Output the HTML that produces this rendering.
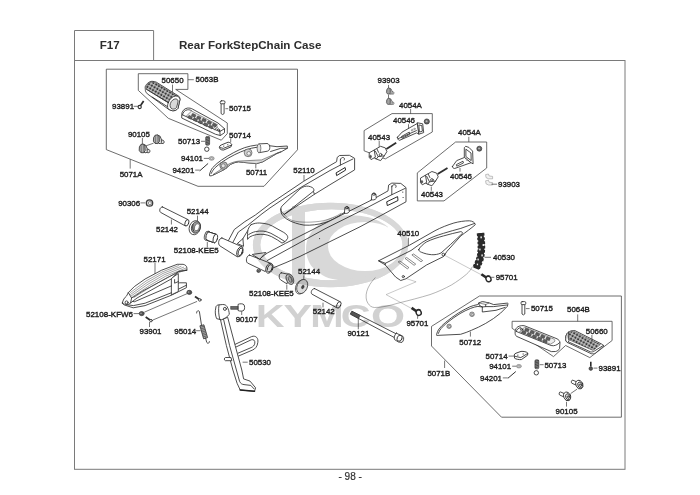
<!DOCTYPE html>
<html>
<head>
<meta charset="utf-8">
<title>F17 Rear ForkStepChain Case</title>
<style>
html,body{margin:0;padding:0;background:#fff;}
body{width:700px;height:495px;overflow:hidden;font-family:"Liberation Sans",sans-serif;}
svg{display:block;position:absolute;left:0;top:0;filter:blur(.35px);}
svg text{font-family:"Liberation Sans",sans-serif;}
.fr{fill:none;stroke:#7a7a7a;stroke-width:1;}
.gb{fill:none;stroke:#484848;stroke-width:.8;stroke-linejoin:miter;}
.ld{fill:none;stroke:#3c3c3c;stroke-width:.7;}
.p{fill:#fff;stroke:#2e2e2e;stroke-width:.85;stroke-linejoin:round;stroke-linecap:round;}
.pn{fill:none;stroke:#2e2e2e;stroke-width:.85;stroke-linejoin:round;stroke-linecap:round;}
.pt{fill:none;stroke:#4a4a4a;stroke-width:.5;stroke-linejoin:round;stroke-linecap:round;}
.g1{fill:#d9d9d9;stroke:#2e2e2e;stroke-width:.8;stroke-linejoin:round;}
.g2{fill:#9a9a9a;stroke:#333;stroke-width:.6;stroke-linejoin:round;}
.dk{fill:#444;stroke:#222;stroke-width:.5;}
.lb{font-size:7.9px;fill:#1e1e1e;stroke:#1e1e1e;stroke-width:.38;}
.hd{font-size:11.6px;font-weight:bold;fill:#2e2e2e;}
.ft{font-size:10px;fill:#333;stroke:#333;stroke-width:.2;}
.wm{fill:#cfcfcf;stroke:none;}
</style>
</head>
<body>
<svg width="700" height="495" viewBox="0 0 700 495">
<rect x="0" y="0" width="700" height="495" fill="#fff"/>



<!-- ===== FRAME ===== -->
<g id="frame">
<rect class="fr" x="74.5" y="60.5" width="550.5" height="408.8"/>
<path class="fr" d="M74.5,60.5 L74.5,30.5 L153.6,30.5 L153.6,60.5"/>
<text class="hd" x="99.7" y="48.8">F17</text>
<text class="hd" x="179" y="48.9">Rear ForkStepChain Case</text>
<text class="ft" x="338.5" y="480">- 98 -</text>
</g>

<!-- ===== GROUP BOXES ===== -->
<g id="groups">
<polygon class="gb" points="106.3,69.2 297.5,69.2 297.5,149.8 264,186.3 198,186.3 106.3,149.6"/>
<polygon class="gb" points="138.3,73.7 187.9,73.7 187.9,89.4 175.7,89.4 227.3,123 227.3,133.6 221.3,140.2 168.3,118.3 138.3,90.4"/>
</g>


<defs>
<pattern id="nub" width="3.2" height="3.2" patternUnits="userSpaceOnUse" patternTransform="rotate(30)">
<rect width="3.2" height="3.2" fill="#cfcfcf"/>
<rect x=".4" y=".4" width="2.2" height="2.2" fill="#3a3a3a"/>
</pattern>
</defs>
<!-- ===== GROUP A: upper-left 5071A ===== -->
<g id="gA">
<!-- footpeg rubber 50650 -->
<path class="p" d="M145.3,86.5 C146,84.8 147,83.6 148.1,82.9 C149.5,81.8 150.8,81.3 152.1,81.3 C153.6,81.4 155,81.7 156.2,82.1 L175.6,94.2 L178.8,96.2 C179.6,97 180,98.2 180,99.4 L178,108.3 C176.5,110.3 174.5,111 172.3,110.7 C170.8,110.4 169.5,109.8 168.3,109.1 L147.3,93.8 C146,92.6 145.3,91.2 145.3,89.7 Z"/>
<path d="M146.3,86.6 C147,84.6 148.4,83.2 150,82.3 C151.6,81.7 153.6,81.8 155.4,82.6 L177.8,96.4 L170,102.6 L168.3,102.7 L146.5,89.3 Z" fill="url(#nub)" stroke="#333" stroke-width=".5"/>
<path class="pn" d="M146.5,89.3 L168.3,102.7 M152.1,97 L167.5,106.7"/>
<path class="p" d="M168.3,102.7 C169.5,98.8 172.5,96.4 175.6,96 C178,95.8 179.8,97.4 180,99.4 L178,108.3 C176.5,110.3 174.5,111 172.3,110.7 C170.8,110.4 169.5,109.8 168.3,109.1 C167.2,107.2 167.3,104.8 168.3,102.7 Z"/>
<path class="g1" d="M170.3,103.6 C171.3,100.6 173.6,98.9 175.8,98.9 C177.6,99.1 178.3,100.4 178,102 L176.6,107.4 C175.6,108.8 174,109.3 172.4,109 C170.4,108.4 169.6,106 170.3,103.6 Z" stroke-width=".5"/>
<!-- step bar -->
<path class="p" d="M181.7,114.1 C181.8,111.5 184,108.6 187.3,108.1 C189.5,107.9 191,108.3 192.2,108.9 L218,123 L224.5,128.7 L224.5,132.7 L220.4,135.5 L215.6,134.3 L182.1,118.2 Z"/>
<path class="pn" d="M182.5,114.9 L214.8,129.5 L219.8,131.6 L224.5,128.7 M219.8,131.6 L220.2,135.4 M214.8,129.5 L217.6,127"/>
<path class="pn" d="M182.5,114.9 C182.8,112.4 184.8,110.2 187.4,109.8 C189,109.6 190.4,110 191.4,110.6"/>
<path d="M186.2,116.2 L191.6,111 L217.6,124.8 L213.2,128.6 Z" fill="#ececec" stroke="#333" stroke-width=".5" stroke-linejoin="round"/>
<g fill="#5f5f5f" stroke="#2a2a2a" stroke-width=".4"><rect x="191.8" y="114.0" width="3.9" height="2.7" rx=".5" transform="rotate(25 193.6 115.2)"/><rect x="197.0" y="116.4" width="3.9" height="2.7" rx=".5" transform="rotate(25 198.8 117.6)"/><rect x="202.2" y="118.8" width="3.9" height="2.7" rx=".5" transform="rotate(25 204.0 120.0)"/><rect x="207.4" y="121.3" width="3.9" height="2.7" rx=".5" transform="rotate(25 209.2 122.5)"/><rect x="212.6" y="123.7" width="3.9" height="2.7" rx=".5" transform="rotate(25 214.4 124.9)"/><rect x="188.2" y="115.9" width="3.9" height="2.7" rx=".5" transform="rotate(25 190.0 117.1)"/><rect x="193.4" y="118.3" width="3.9" height="2.7" rx=".5" transform="rotate(25 195.2 119.5)"/><rect x="198.6" y="120.7" width="3.9" height="2.7" rx=".5" transform="rotate(25 200.4 121.9)"/><rect x="203.8" y="123.2" width="3.9" height="2.7" rx=".5" transform="rotate(25 205.6 124.4)"/><rect x="209.0" y="125.6" width="3.9" height="2.7" rx=".5" transform="rotate(25 210.8 126.8)"/></g>
<ellipse class="p" cx="218.6" cy="129.9" rx="1.3" ry=".9" transform="rotate(25 218.6 129.9)" stroke-width=".6"/>
</g>


<g id="gA2">
<!-- 93891 screw -->
<line class="ld" x1="133.6" y1="106.3" x2="138" y2="106.3"/>
<line x1="140.8" y1="105.2" x2="143.6" y2="101" stroke="#2a2a2a" stroke-width="1.7" stroke-linecap="butt"/>
<circle cx="139.7" cy="107" r="1.6" fill="#fff" stroke="#2a2a2a" stroke-width="1.1"/>
<!-- 50715 pin -->
<path class="p" d="M221.1,103.6 L221.1,113.6 Q222.6,115.4 224.1,113.6 L224.1,103.6 Z"/>
<rect class="p" x="220.2" y="100.8" width="4.8" height="3" rx="1.2"/>
<line class="ld" x1="225.4" y1="108.7" x2="228.2" y2="108.7"/>
<!-- 90105 bolts -->
<line class="ld" x1="142.4" y1="138" x2="142.4" y2="144.2"/>
<line class="ld" x1="146.1" y1="145.8" x2="153.5" y2="143.2"/>
<g id="b90105">
<path d="M146,148.6 L149.2,149.6 C150.2,150.2 150.2,152.4 149,152.8 L145.8,152.4 Z" fill="#e4e4e4" stroke="#2a2a2a" stroke-width=".8" stroke-linejoin="round"/>
<ellipse cx="145" cy="148.8" rx="2.1" ry="4.2" transform="rotate(-12 145 148.8)" fill="#f4f4f4" stroke="#2a2a2a" stroke-width=".8"/>
<path d="M139.4,146.8 L141,144.4 L143.6,144 L145,146 L145.2,150.6 L143.6,152.8 L140.8,152.6 L139.2,150.4 Z" fill="#b0b0b0" stroke="#2a2a2a" stroke-width=".8" stroke-linejoin="round"/>
<path d="M141,144.4 L141.4,152.6 M143.6,144 L143.8,152.8" stroke="#444" stroke-width=".5" fill="none"/>
</g>
<use href="#b90105" transform="translate(14.2,-9.2)"/>
<!-- 50713 spring + ring -->
<line class="ld" x1="201" y1="141.3" x2="205" y2="141.3"/>
<rect x="205.7" y="136.4" width="3.9" height="8.8" rx="1.2" fill="#8a8a8a" stroke="#333" stroke-width=".6"/>
<path d="M205.8,138 l3.7,-1 M205.8,139.6 l3.7,-1 M205.8,141.2 l3.7,-1 M205.8,142.8 l3.7,-1 M205.8,144.4 l3.7,-1" stroke="#222" stroke-width=".6" fill="none"/>
<circle cx="206.8" cy="149.2" r="2.2" fill="#fff" stroke="#333" stroke-width=".9"/>
<!-- 50714 plate -->
<line class="ld" x1="230.7" y1="138.4" x2="230.7" y2="142.3"/>
<path d="M219.3,147.2 C219.6,146 220.2,145.4 221.2,145 L228.1,142.2 C229.6,142.2 231.4,143.4 231.8,144.7 L230.9,146.9 L223.7,150 C222.4,150.2 221,149.8 220.2,149.1 Z" fill="#fff" stroke="#2e2e2e" stroke-width=".9" stroke-linejoin="round"/>
<path class="pn" d="M220.2,147.6 L223.4,148.4 L231.2,145.2" stroke-width=".5"/>
<path d="M223.1,145.8 l1.2,.8 m0,-.8 l-1.2,.8 M227.2,144.3 l1.2,.8 m0,-.8 l-1.2,.8" stroke="#333" stroke-width=".5" fill="none"/>
<!-- 94101 washer -->
<line class="ld" x1="203.8" y1="158.4" x2="209" y2="158.4"/>
<ellipse cx="211.6" cy="158.4" rx="2.6" ry="1.9" fill="#bdbdbd" stroke="#666" stroke-width=".5"/>
<ellipse cx="211.6" cy="158.4" rx="1" ry=".7" fill="#fff" stroke="#666" stroke-width=".4"/>
<!-- 94201 cotter pin -->
<line class="ld" x1="195.2" y1="170.1" x2="199.8" y2="170.1"/>
<line x1="200" y1="170.6" x2="207.8" y2="163.7" stroke="#333" stroke-width="1" stroke-linecap="round"/>
<!-- 5071A leader -->
<line class="ld" x1="130.2" y1="159.2" x2="130.2" y2="168.6"/>
<!-- 50711 bracket -->
<path class="p" d="M209.5,174.6 C210,172 211.2,169.6 212.7,167.6 C215.4,164.6 218.4,162.2 221.7,159.9 C225.4,157.4 229.3,155 233.3,152.8 C237,150.8 240.8,149 244.8,147.6 C248.6,146.4 252.4,145.6 256.4,145.1 L269.3,145.7 L277,146.7 L287.3,146 L287.3,148.3 L280.8,152.1 L277,153.4 L262.8,161.8 L256.4,163.7 L243.6,162.4 L238.4,161.8 C235.6,162.2 233,163.1 230.7,164.3 L224.3,169.5 L215.3,174 C213.4,175.2 211.6,176 210.1,175.9 Z"/>
<path d="M238.4,161.1 L261.6,159.9 L280.8,151.5 L280.8,152.1 L277,153.4 L262.8,161.8 L256.4,163.7 L243.6,162.4 L238.4,161.8 C235.6,162.2 233,163.1 230.7,164.3 L224.3,169.5 L215.3,174 L213,174.6 C217,172 221,169.4 225,166.4 C229,163.6 233.6,161.6 238.4,161.1 Z" fill="#dcdcdc" stroke="#3a3a3a" stroke-width=".55" stroke-linejoin="round"/>
<path class="pn" d="M211.3,173.4 C212.3,171 213.6,169.2 215.2,167.6 C217.6,165.2 220.4,163.2 223.4,161.2 C227,158.8 230.8,156.6 234.8,154.6 C238.6,152.8 242.4,151 246.2,149.8 C249.8,148.6 253.4,147.6 257,147.2"/>
<path class="pn" d="M270.6,151.5 L280.8,148.3 L287.3,148.3"/>
<circle cx="223.6" cy="165.6" r="3.8" fill="#b8b8b8" stroke="#3a3a3a" stroke-width=".6"/>
<circle cx="223.2" cy="165.8" r="2" fill="#e6e6e6" stroke="#3a3a3a" stroke-width=".5"/>
<circle cx="248.1" cy="152.8" r="3.9" fill="#d0d0d0" stroke="#3a3a3a" stroke-width=".6"/>
<circle cx="248.8" cy="153.4" r="1.9" fill="#f2f2f2" stroke="#3a3a3a" stroke-width=".5"/>
<path class="p" d="M259,143.9 L267,143.5 C268.8,143.6 269.8,145.4 269.8,147.4 C269.8,149.4 268.9,150.9 267.4,151.2 L259,152.7 Z"/>
<ellipse cx="259" cy="148.3" rx="1.9" ry="4.4" fill="#e2e2e2" stroke="#3a3a3a" stroke-width=".6"/>
<line class="ld" x1="255.8" y1="164.2" x2="255.8" y2="168.4"/>
<!-- 50650 / 5063B leaders -->
<line class="ld" x1="172.5" y1="84.6" x2="172.5" y2="92"/>
<line class="ld" x1="187.9" y1="79.7" x2="193.8" y2="79.7"/>
</g>


<!-- ===== SWINGARM 52110 ===== -->
<g id="swingarm">
<!-- far arm -->
<path d="M228.4,240.6 L234.3,229.5 L244.9,221.6 L255.4,215 L270,203.9 L282.1,195.8 L303.8,181.2 L330,165.5 L336.6,161.7 L337.2,157.4 L339.6,155.5 L349.4,155.3 L354.6,158.3 L354.6,169.9 L330,184.7 L314.4,194.3 L283.6,214 L264.6,218 L251.4,225.5 L246.8,232.1 L242.9,238.7 L243.5,245.9 L236,246 Z" fill="#fff" stroke="none"/>
<path class="pn" d="M228.4,240.6 L234.3,229.5 L244.9,221.6 L255.4,215 L270,203.9 L282.1,195.8 L303.8,181.2 L330,165.5 L336.6,161.7 L337.2,157.4 L339.6,155.5 L349.4,155.3 L354.6,158.3 L354.6,169.9 L330,184.7 L314.4,194.3"/>
<path class="pn" d="M251.4,225.5 L246.8,232.1 L242.9,238.7"/>
<path class="pn" d="M232.4,243.3 L238.3,232.1 L247.5,225.5 L262,213.8 L270,207.9 L282.1,199.8 L300.3,187.7 L330,170.5 L340.4,165.1 L352.9,159"/>
<path class="pn" d="M340.4,159.8 L340.4,165.1 M340.4,159.8 C340.6,158 342,157.2 343.5,157.6 C344.6,158 344.8,159 344.2,160"/>
<path d="M336.1,172.9 L345.1,167.5 L345.6,170.1 L336.6,175.6 Z" fill="#fff" stroke="#2a2a2a" stroke-width="1"/>
<!-- U opening -->
<path class="p" d="M300.3,188.7 C303,186.6 305.8,185.8 308.4,186.2 C311.6,186.8 313.8,188 313.9,189.7 C314,190.6 313.8,191 313.4,191.3 L314.4,194.3 L284.3,214.4 C282.4,213.4 281,211.4 280.8,208.9 C281,207.4 281.6,206.2 282.6,205.4 Z"/>
<path class="pn" d="M313.4,191.3 L284.3,214.4"/>
<path class="pn" d="M280.8,208.9 C280.6,211 281,212.6 281.7,214 C283,216.2 284.8,217.8 286.8,219.1 C289.4,220.8 292.3,222.1 295.4,223 C298.2,224 301,224.6 304,225.1 C311,225.6 318,224.6 325,222.6 C331,220.8 337,217.3 341.7,214 L346,212"/>
<path class="pt" d="M284.3,214.4 C286,217.2 289,219.4 292.5,220.6 C300,222.8 313,222.6 323,220.8 C330,219.2 336,216.6 341,213.4"/>
<!-- cross member -->
<path class="p" d="M251.1,224.7 C253.8,223.4 256.8,222.9 259.7,223 C262.6,223.1 265.5,223.6 268.3,224.3 C271,225.3 273.6,226.6 276,228.1 L283.7,232.4 C285.2,233.2 286.4,234.2 287.1,235.4 C287.8,236.4 287.9,237.4 287.6,238.4 L285.4,241.4 L282,243.1 L277.7,240.1 L271.7,236.7 C269.2,235.5 266.6,234.7 264,234.4 C261.4,234.2 258.8,234.2 256.3,234.6 C253.8,235.1 251.4,235.9 249.4,237.1 L247.6,239.4 C247.4,236 247.4,232.6 248.1,229.4 C248.8,227.4 249.8,225.8 251.1,224.7 Z"/>
<path class="pn" d="M248.6,234.6 C250.8,233.2 253,232.2 255.4,231.6 C258,231.1 260.6,230.9 263.1,231.1 C265.8,231.4 268.4,232.2 270.9,233.3 L278.6,237.6 L284.6,241.4"/>
<!-- near arm -->
<path class="p" d="M258,260 L267.2,253.1 L285.6,243.3 L346.2,212.7 L373.2,199.2 L388,190.9 L388.6,185.1 L391.8,183.1 L400.8,183.4 L406,187.6 L406,201.8 L383,214.4 L360,226.8 L330,241.6 L300,256.4 L286,262.6 L273.6,267.7 L266,268 Z"/>
<path class="pn" d="M267.3,260.5 L325,228.8 L363.6,209.5 L391.8,194.7 L405.3,188.3"/>
<path class="pn" d="M391.8,186 L391.8,194.7 M391.8,186.8 C392.2,185 393.8,184.4 395.2,184.8 C396.4,185.3 396.4,186.5 395.8,187.4"/>
<path d="M386.7,201.8 L397.6,196.6 L398,200.5 L387.3,205.6 Z" fill="#fff" stroke="#2a2a2a" stroke-width="1"/>
<circle cx="402.8" cy="192.1" r=".6" fill="#333"/><circle cx="403.1" cy="197.5" r=".6" fill="#333"/>
<circle cx="319.6" cy="238.6" r=".55" fill="#333"/>
<!-- lugs -->
<path class="p" d="M344.4,212.9 L344.9,208 C345.3,206 348.5,206 348.9,208 L349.3,211.8 C348,213.6 345.5,214 344.4,212.9 Z"/>
<ellipse class="pn" cx="346.9" cy="207.8" rx="1.5" ry=".9"/>
<path class="p" d="M371.4,199.4 L371.9,194.5 C372.3,192.5 375.5,192.5 375.9,194.5 L376.3,198.3 C375,200.1 372.5,200.5 371.4,199.4 Z"/>
<ellipse class="pn" cx="373.9" cy="194.3" rx="1.5" ry=".9"/>
<!-- gusset at far arm pivot -->
<path class="p" d="M237.6,243.3 L242.9,238.7 L243.5,245.9 Z"/>
<!-- upper pivot tube -->
<path class="p" d="M221.9,238 L242.9,247.2 L237.6,257 L219.9,245.9 C217.6,244.2 218.4,238.2 221.9,238 Z"/>
<ellipse class="p" cx="239.9" cy="251.8" rx="2.9" ry="5.1" transform="rotate(20 239.9 251.8)"/>
<ellipse class="pn" cx="240.3" cy="251.9" rx="1.9" ry="3.9" transform="rotate(20 240.3 251.9)" stroke-width=".5"/>
<!-- lower pivot tube -->
<path class="p" d="M249.5,255.1 L270.8,263.4 L265.2,271.5 L247.5,263 C245.4,261.4 246.4,255.4 249.5,255.1 Z"/>
<ellipse class="p" cx="269.4" cy="268.2" rx="3.3" ry="5.2" transform="rotate(22 269.4 268.2)"/>
<ellipse class="pn" cx="269.8" cy="268.3" rx="2.2" ry="4" transform="rotate(22 269.8 268.3)" stroke-width=".5"/>
<circle class="p" cx="258.6" cy="270.8" r="1.7"/>
<circle class="pn" cx="258.2" cy="271" r=".8" stroke-width=".4"/>
<path class="p" d="M252.7,254.4 L265.9,252.5 L260,259 Z"/>
<line class="ld" x1="304" y1="175" x2="304" y2="181"/>
</g>


<!-- ===== PIVOT HARDWARE ===== -->
<g id="pivothw">
<!-- 90306 nut -->
<line class="ld" x1="140.5" y1="202.9" x2="145.2" y2="202.9"/>
<circle cx="149.5" cy="203" r="3.2" fill="#d8d8d8" stroke="#3c3c3c" stroke-width="1.3"/>
<circle cx="149.9" cy="203.1" r="1.5" fill="#fff" stroke="#333" stroke-width=".5"/>
<!-- 52142 tube (left) -->
<path class="p" d="M162.4,206.9 L188,219.6 L185.5,226 L160.6,212.4 C158.8,211 160,206.6 162.4,206.9 Z"/>
<ellipse class="p" cx="186.9" cy="222.8" rx="1.8" ry="3.4" transform="rotate(20 186.9 222.8)"/>
<line class="ld" x1="171.4" y1="219.5" x2="171.4" y2="224.5"/>
<!-- 52144 seal (left) -->
<line class="ld" x1="197.5" y1="215.6" x2="197.5" y2="221"/>
<ellipse cx="194.8" cy="227.7" rx="5.5" ry="7.2" transform="rotate(20 194.8 227.7)" fill="#fff" stroke="#333" stroke-width=".8"/>
<ellipse cx="195.9" cy="227.4" rx="4.3" ry="5.9" transform="rotate(20 195.9 227.4)" fill="#9c9c9c" stroke="#2a2a2a" stroke-width=".7"/>
<ellipse cx="196.9" cy="227.2" rx="2.3" ry="3.7" transform="rotate(20 196.9 227.2)" fill="#fff" stroke="#2a2a2a" stroke-width=".5"/>
<path d="M193.2,224.4 C192.4,226.4 192.6,229.6 194,231.6" fill="none" stroke="#333" stroke-width=".9"/>
<!-- 52108-KEE5 bushing (left) -->
<g id="bush">
<ellipse cx="207.2" cy="235.8" rx="2.7" ry="4.8" transform="rotate(14 207.2 235.8)" fill="#d6d6d6" stroke="#333" stroke-width=".7"/>
<path class="p" d="M208.6,231.9 L216,234.3 L214.6,242.8 L207.4,240.4 Z" stroke="none"/>
<path class="pn" d="M208.6,231.9 L216,234.3 M207.4,240.4 L214.6,242.8"/>
<ellipse class="p" cx="208.2" cy="236.1" rx="2.1" ry="4.3" transform="rotate(14 208.2 236.1)" stroke-width=".5"/>
<path d="M208.8,232.2 L215.6,234.5 L214.4,242.4 L207.8,240.2 Z" fill="#fff" stroke="none"/>
<path class="pn" d="M208.6,231.9 L216,234.3 M207.4,240.4 L214.6,242.8"/>
<ellipse class="p" cx="215.3" cy="238.5" rx="2.1" ry="4.3" transform="rotate(14 215.3 238.5)"/>
</g>
<line class="ld" x1="207.3" y1="241.8" x2="207.3" y2="247.5"/>
<!-- bushing 2 (mirrored) -->
<path class="p" d="M281.3,272.8 L289,274.4 L287,283.9 L280.6,279.9 C278.4,278.4 278.8,273 281.3,272.8 Z"/>
<ellipse cx="289.9" cy="279.2" rx="3.5" ry="5.6" transform="rotate(-22 289.9 279.2)" fill="#d0d0d0" stroke="#333" stroke-width=".7"/>
<ellipse cx="289.3" cy="279" rx="2.6" ry="4.5" transform="rotate(-22 289.3 279)" fill="#efefef" stroke="#333" stroke-width=".5"/>
<ellipse cx="290" cy="279.4" rx="1.5" ry="3.1" transform="rotate(-22 290 279.4)" fill="#c4c4c4" stroke="#333" stroke-width=".6"/>
<line class="ld" x1="286.8" y1="284.6" x2="286.8" y2="289.7"/>
<!-- seal 2 -->
<line class="ld" x1="303.8" y1="275.4" x2="303.8" y2="279.6"/>
<ellipse cx="300.9" cy="287" rx="5.1" ry="7.4" transform="rotate(24 300.9 287)" fill="#fff" stroke="#333" stroke-width=".7"/>
<ellipse cx="302.2" cy="286.5" rx="5.1" ry="7.4" transform="rotate(24 302.2 286.5)" fill="#dcdcdc" stroke="#2a2a2a" stroke-width=".7"/>
<ellipse cx="302.8" cy="287" rx="1.2" ry="1.9" transform="rotate(24 302.8 287)" fill="#444" stroke="#222" stroke-width=".4"/>
<!-- tube 2 -->
<path class="p" d="M314.6,288.6 L340.3,301.8 L336.8,307.8 L311.9,294.1 C310.2,292.6 312,288.2 314.6,288.6 Z"/>
<ellipse class="p" cx="338.8" cy="304.9" rx="1.9" ry="3.5" transform="rotate(25 338.8 304.9)"/>
<line class="ld" x1="323" y1="302.7" x2="323" y2="307.4"/>
</g>


<!-- ===== CHAIN SLIDER 52171 + hardware ===== -->
<g id="slider">
<line class="ld" x1="155" y1="263" x2="155" y2="274.6"/>
<!-- lower plate -->
<path class="p" d="M179.9,282.8 L186.4,282.8 L186.4,287.7 L171.2,295.3 L145.1,305.6 L133.2,307.8 L124.5,305 L122.3,303.4 L127,299.6 L134.3,301.8 L172.3,285.5 Z"/>
<path class="pn" d="M126,304.6 L133.4,305.6 L145.1,303.2 L171.2,292.8 L186.4,285.2"/>
<!-- leg -->
<path class="p" d="M171.7,277.9 L178.3,273.6 L178.3,291.5 L171.7,294.7 Z"/>
<path class="pn" d="M174.6,279.6 L174.6,283.2 L178.3,281.6"/>
<!-- top plate -->
<path class="p" d="M122.4,303 C122.8,300 124.6,297.6 126.7,295.8 L128.3,292.6 L134.3,286.6 L145.1,279 L161.4,270.3 L177.2,264.3 L183.1,264.3 C185.4,264.8 186.9,266.2 186.9,268.1 L186.9,270.3 L178.8,271.4 L171.2,279 L137,298 L131,302.6 C129,305 124.4,305.2 122.4,303 Z"/>
<path class="pn" d="M186.9,270.3 L178.8,271.4 L170.1,276.3 L156,283.9 L141.9,291.5 L135.4,295.8 L131.6,298"/>
<path class="pt" d="M130,292.8 L146,281 L162,272 L178.4,265.6 M130.6,294.4 L147,282.6 L163,273.4 L181,266.4 M131.4,295.8 L148,284.2 L164.2,274.8 L183.6,267.2 M132.6,296.8 L149.4,285.6 L165.6,276.2 L185.6,268.2 M134,297.4 L151,286.8 L167.4,277.4 L186.4,269.4"/>
<path class="pn" d="M128.3,292.6 L131.6,298 L130.6,302.8"/>
<circle class="p" cx="126.6" cy="302.4" r="1.5" stroke-width=".6"/>
<!-- collars & screws -->
<line class="ld" x1="187" y1="293.7" x2="144.3" y2="312.2"/>
<line class="ld" x1="197.1" y1="301.4" x2="152.9" y2="320"/>
<ellipse cx="189.3" cy="292.4" rx="2.5" ry="2.1" fill="#555" stroke="#222" stroke-width=".6"/>
<ellipse cx="188.6" cy="292.1" rx="1.3" ry="1.1" fill="#999" stroke="#222" stroke-width=".3"/>
<ellipse cx="141.7" cy="313.6" rx="2.5" ry="2.1" fill="#555" stroke="#222" stroke-width=".6"/>
<ellipse cx="141" cy="313.3" rx="1.3" ry="1.1" fill="#999" stroke="#222" stroke-width=".3"/>
<line x1="195" y1="296.4" x2="199" y2="299.3" stroke="#2e2e2e" stroke-width="1.8"/>
<circle cx="199.8" cy="299.9" r="1.3" class="p"/>
<line x1="145.7" y1="317.1" x2="150" y2="319.9" stroke="#2e2e2e" stroke-width="1.8"/>
<circle cx="151" cy="320.6" r="1.3" class="p"/>
<line class="ld" x1="133.6" y1="313.6" x2="139.2" y2="313.6"/>
<line class="ld" x1="149.5" y1="322" x2="149.5" y2="327"/>
</g>

<!-- ===== SPRING 95014 ===== -->
<g id="spring">
<line class="ld" x1="196.1" y1="330.7" x2="200.6" y2="330.7"/>
<path class="pn" d="M196.6,313 C196.6,310.5 198.6,310 199.4,311.6 L201.6,325.8" stroke-width=".8"/>
<path d="M199.9,325.8 L203.9,324.8 L207.6,337.6 L203.6,338.8 Z" fill="#a8a8a8" stroke="#2e2e2e" stroke-width=".8"/>
<path d="M200.6,327.2 l3.4,-.9 M201,328.8 l3.4,-.9 M201.5,330.4 l3.4,-.9 M201.9,332 l3.4,-.9 M202.4,333.6 l3.4,-.9 M202.8,335.2 l3.4,-.9 M203.3,336.8 l3.4,-.9" stroke="#222" stroke-width=".5" fill="none"/>
<path class="pn" d="M205.6,338 L206.6,342 C207.4,344 209.4,343.6 209.4,341.6" stroke-width=".8"/>
</g>

<!-- ===== SIDE STAND 50530 + 90107 ===== -->
<g id="stand">
<!-- loop -->
<g transform="translate(0.6,1)">
<path class="pn" d="M234,343.6 L251,335.6 C255.5,334 258,337.5 257.2,341.5 C256.8,345.5 254.5,348 252,349 L238,355"/>
<path class="pn" d="M235,346.2 L250.6,338.8 C253.2,338 254.6,339.8 254.2,342.2 C253.8,344.6 252.4,345.8 250.5,346.6 L237.4,352.2"/>
</g>
<!-- leg -->
<path class="p" d="M220.5,319.8 L226.4,345.6 L232.9,370 L237.1,383.3 L240.2,390 L254.5,391.3 L255.6,387.8 L250,381.1 L243.6,378.9 L241.8,370 L235.2,345.6 L227.8,317.8 Z"/>
<path class="pn" d="M223.6,319.4 L229.6,345.6 L236.4,370 L239.6,381.4 C240.5,383.5 242,384.4 244,384.6 L250.8,385.4 L254,388.8"/>
<path d="M240.2,390 L254.5,391.3" stroke="#222" stroke-width="1.5" fill="none" stroke-linecap="round"/>
<!-- top bracket -->
<path class="p" d="M216.2,306.2 C216.8,305.2 217.8,305 218.8,304.9 L222.7,304.5 C224.6,304.4 226.2,305.2 227.1,306.7 C228.4,309 229.2,311.6 229.3,314.4 L226,317.6 L221.6,319.8 L216.7,318.7 C215.6,316.4 215.2,313.8 215.3,311.1 Z"/>
<path class="pn" d="M219,305 C218.2,309.6 218.6,314.8 219.8,319.4"/>
<circle class="p" cx="224.9" cy="308.9" r="1.5" stroke-width=".7"/>
<!-- pin -->
<path class="p" d="M230.6,357.5 L225.4,357.5 C224,357.8 224,360.4 225.4,360.7 L231.4,360.7 Z"/>
<line class="ld" x1="242.6" y1="362.2" x2="247.7" y2="362.2"/>
<!-- 90107 bolt -->
<rect x="230.8" y="306.6" width="7.8" height="2.6" fill="#6a6a6a" stroke="#2a2a2a" stroke-width=".6"/>
<path class="p" d="M238.4,304.2 C239.7,303.5 243,303.5 244,304.8 C244.8,306.1 244.8,308.9 244,310.1 C243,311.4 239.7,311.4 238.4,310.7 Z"/>
<line class="ld" x1="241.7" y1="311.2" x2="241.7" y2="315"/>
</g>

<!-- ===== 90121 long bolt, 95701 lower ===== -->
<g id="longbolt">
<path class="p" d="M352.1,311.4 L397.1,334.3 L395,337.9 L350.7,314.3 Z"/>
<path d="M352.1,311.4 L360.2,315.4 L358.6,318.4 L350.7,314.3 Z" fill="#555" stroke="#222" stroke-width=".5"/>
<path class="p" d="M396.4,333.2 L403,336.4 C404.2,337.4 403.8,341 402,342.4 L398.4,342 L394.6,339.6 C393.6,337.6 394.6,334.4 396.4,333.2 Z"/>
<ellipse class="pn" cx="399.6" cy="338.2" rx="2.4" ry="3.2" transform="rotate(25 399.6 338.2)"/>
<line class="ld" x1="358.3" y1="317.4" x2="358.3" y2="329.3"/>
</g>


<!-- ===== CHAIN ADJUSTERS 4054A ===== -->
<g id="adj">
<polygon class="gb" points="392,113.6 432.3,113.6 432.3,132 385.3,158.9 364.1,150.8 364.1,130.6"/>
<polygon class="gb" points="455.6,142 486.7,142 486.7,168 444,200.9 417.3,200.9 417.3,172.9"/>
<line class="ld" x1="410.6" y1="109" x2="410.6" y2="113.8"/>
<line class="ld" x1="468.8" y1="136.8" x2="468.8" y2="142"/>
<!-- 93903 clips (top) -->
<line class="ld" x1="388.5" y1="84.9" x2="388.5" y2="88.2"/>
<use href="#b90105" transform="translate(289,-12.8) scale(0.7)"/>
<line class="ld" x1="388.5" y1="94.6" x2="388.5" y2="98.3"/>
<use href="#b90105" transform="translate(289,-2.5) scale(0.7)"/>
<!-- 40546 (1) -->
<line class="ld" x1="408.5" y1="124.2" x2="408.5" y2="129.8"/>
<path class="p" d="M397.5,137.2 L402.1,132.1 L417.6,123.3 L419.1,134.1 L416.5,132.9 L399.6,140.3 C398.2,140.2 397.3,138.8 397.5,137.2 Z" stroke-width=".9"/>
<path d="M401.6,136.4 L409.3,132.1 L409.8,134.2 L402.1,138.4 Z" fill="#fff" stroke="#2a2a2a" stroke-width=".8" stroke-linejoin="round"/>
<path class="pn" d="M398.4,138.6 L416.4,130.6" stroke-width=".5"/>
<path class="p" d="M417.6,122.8 L422.7,123.8 L423.7,132.6 L419.1,134.1 Z" stroke-width=".9"/>
<path class="pn" d="M419.2,125 L421.8,125.6 L422.4,131.2 L419.8,132 Z" stroke-width=".6"/>
<rect x="411.4" y="129.6" width="1.5" height="1.3" fill="#fff" stroke="#333" stroke-width=".4" transform="rotate(-28 412 130.3)"/>
<rect x="413.9" y="128.3" width="1.5" height="1.3" fill="#fff" stroke="#333" stroke-width=".4" transform="rotate(-28 414.6 129)"/>
<circle cx="426.8" cy="121.5" r="2.6" fill="#6a6a6a" stroke="#222" stroke-width=".6"/>
<circle cx="426.6" cy="121.3" r="1.2" fill="#bbb" stroke="#222" stroke-width=".3"/>
<!-- 40543 (1) -->
<line class="ld" x1="379.2" y1="140.8" x2="379.2" y2="147"/>
<g id="p40543">
<line x1="386.4" y1="148.9" x2="396.2" y2="142.8" stroke="#2e2e2e" stroke-width="1.8" stroke-linecap="butt"/>
<path class="p" d="M374.2,150 L380.6,146.3 L385.3,147.9 L386.9,151.6 L384.3,155.8 L380.6,160.6 L376.3,159 L373.7,157.4 Z" stroke-width=".9"/>
<path class="p" d="M369.6,152.6 L374.2,150 L375.4,157.2 L371,159.6 L369.4,157.6 Z" stroke-width=".9"/>
<path class="pn" d="M375.4,151.2 L378.2,156.6 L376.3,159 M378.2,156.6 L384.3,155.8 M377,149 L378.6,152.4" stroke-width=".6"/>
<circle class="p" cx="380.6" cy="154.7" r="1.3" stroke-width=".6"/>
<ellipse cx="370.6" cy="156.6" rx=".9" ry="1.4" fill="#555" stroke="#222" stroke-width=".4"/>
</g>
<!-- 40546 (2) -->
<line class="ld" x1="460" y1="168" x2="460" y2="171.6"/>
<path class="p" d="M452.5,166.4 L456.7,160.6 L464.6,157.4 L471,162.7 L454.6,168.5 C453.2,168.4 452.4,167.6 452.5,166.4 Z" stroke-width=".9"/>
<path d="M456.4,164.6 L463,161.2 L463.4,163 L456.8,166.2 Z" fill="#fff" stroke="#2a2a2a" stroke-width=".8" stroke-linejoin="round"/>
<path class="p" d="M464.6,147.4 L465.7,146.3 L468.9,147.4 L472.6,151.1 L473.1,163.8 L471,162.7 L464.6,157.4 Z" stroke-width=".9"/>
<path class="pn" d="M466.2,149.4 L471,153 L471.2,160.6 L466.2,156.8 Z" stroke-width=".6"/>
<circle cx="466.9" cy="159.8" r=".7" fill="#fff" stroke="#333" stroke-width=".4"/>
<circle cx="479.3" cy="148.7" r="2.5" fill="#6a6a6a" stroke="#222" stroke-width=".6"/>
<circle cx="479.1" cy="148.5" r="1.2" fill="#bbb" stroke="#222" stroke-width=".3"/>
<!-- 40543 (2) -->
<use href="#p40543" transform="translate(51.3,25.2)"/>
<line class="ld" x1="431.3" y1="186.8" x2="431.3" y2="190.8"/>
<!-- 93903 clips right -->
<g stroke="#9a9a9a" stroke-width=".6" fill="#f2f2f2" stroke-linejoin="round">
<path d="M485.6,174.6 L488.4,174 L489.2,176 L492.6,176.4 L492.6,178.8 L488.6,178.8 L486,177.6 Z"/>
<path d="M485.6,180.8 L488.4,180.2 L489.2,182.2 L492.6,182.6 L492.6,185 L488.6,185 L486,183.8 Z"/>
</g>
<line class="ld" x1="491.4" y1="184.2" x2="497" y2="184.2"/>
</g>


<!-- ===== CHAIN CASE 40510, CHAIN 40530, 95701 ===== -->
<g id="chaincase">
<!-- ghost curve + guide lines -->
<path d="M375.4,277.5 C371,282 368,287 366.8,291.4 C365.5,296 366,300.5 367.9,303.2 C369.5,305.8 371.5,307.2 374.3,307.5 C382,307.6 390,305.5 397.9,303.2 C409,300.5 420,297.6 430,294.6 C438,291.8 445,288.5 451.4,285 C457,281.6 462,278 466.4,274.3 C469,272 471,269.5 472.4,266.6" fill="none" stroke="#6a6a6a" stroke-width=".5"/>
<path d="M403.2,277.5 L416.1,281.8 L386.1,294.6 L411.8,308.6" fill="none" stroke="#777" stroke-width=".4"/>
<path d="M443.6,254.7 L482.3,275.3" fill="none" stroke="#777" stroke-width=".4"/>
<!-- case -->
<path class="p" d="M378.8,260.7 L409.3,245.3 L435,230.7 C441,227.5 447.5,225 453.9,223 C459,221.6 464.5,220.8 469.3,220.8 C472.5,221 475,222.5 475.3,224.7 C471,228.5 466,232 460.8,235.9 L447,251.3 L443.6,256.5 L426.5,265 L405.9,278.8 L400.7,280.5 L395.6,277 L385.3,265 Z"/>
<path class="pn" d="M378.8,260.7 L385.3,263.3 L411,250.5 L423,241.9 C429.5,238 436.5,235.4 443.6,233.3 C449.5,231.4 455,230 460.8,228.4 L474.6,223.4 M385.3,263.3 L385.3,265"/>
<path class="p" d="M418.7,249.6 C420.5,246.4 423.5,243.8 426.5,241.9 C432,239.2 438,237.4 443.6,235.9 C449.5,234.3 455,232.8 460.8,231.6 C462,231.8 462.6,232.5 462.5,233.3 L450.5,244.5 L441,253 C438,254.4 434.8,254.9 431.6,254.7 C428,254.4 424.6,253.6 421.3,252.2 C419.8,251.6 418.6,250.8 418.7,249.6 Z"/>
<g fill="#fff" stroke="#3a3a3a" stroke-width=".6" stroke-linejoin="round">
<path d="M411.9,254.9 L413.6,254 L422.6,260.6 L421,261.8 Z"/>
<path d="M405,258.4 L406.7,257.5 L415.7,264.1 L414.1,265.3 Z"/>
<path d="M398.2,261.9 L399.9,261 L408.9,267.6 L407.3,268.8 Z"/>
</g>
<circle class="pn" cx="403.3" cy="276.6" r="1.1" stroke-width=".5"/>
<circle class="pn" cx="443.4" cy="254.6" r="1.4" stroke-width=".5"/>
<line class="ld" x1="408.4" y1="237.8" x2="408.4" y2="246"/>
<!-- chain -->
<path d="M480.5,233.2 C481.3,240 481.6,246 481.3,250 C481,255 480.4,258.6 478.6,262.5 L476,268.6" fill="none" stroke="#2b2b2b" stroke-width="6" stroke-linecap="butt"/>
<path d="M480.5,233.2 C481.3,240 481.6,246 481.3,250 C481,255 480.4,258.6 478.6,262.5 L476,268.6" fill="none" stroke="#2b2b2b" stroke-width="7.6" stroke-dasharray="2.6 1.5" stroke-linecap="butt"/>
<g fill="#ececec">
<rect x="480.4" y="236.4" width="1.5" height="1.9"/><rect x="482.6" y="244" width="1.4" height="2"/><rect x="479.2" y="248.6" width="1.4" height="1.8"/><rect x="481.4" y="254.4" width="1.4" height="2"/><rect x="477.4" y="258.6" width="1.4" height="1.8"/><rect x="476.8" y="263.6" width="1.3" height="1.6"/>
</g>
<line class="ld" x1="484.6" y1="257.3" x2="491" y2="257.3"/>
<!-- 95701 bolts -->
<g id="b95701">
<line x1="481.4" y1="274.2" x2="486.6" y2="277.8" stroke="#2a2a2a" stroke-width="2.6"/>
<ellipse cx="488.5" cy="279" rx="2.5" ry="2.8" transform="rotate(-25 488.5 279)" fill="#fff" stroke="#2a2a2a" stroke-width="1.4"/>
<path d="M485.8,277.4 C486.4,275.8 488.6,275.4 490,276.4" fill="none" stroke="#2a2a2a" stroke-width="1.4"/>
</g>
<line class="ld" x1="490.7" y1="277.3" x2="494.3" y2="277.3"/>
<use href="#b95701" transform="translate(-69.8,33.7)"/>
<line class="ld" x1="417.6" y1="315.2" x2="417.6" y2="318.8"/>
</g>


<!-- ===== GROUP B: lower-right 5071B ===== -->
<g id="gB">
<polygon class="gb" points="479.5,296 621.4,296 621.4,417.2 501.5,417.2 431.5,346 431.5,326.4"/>
<polygon class="gb" points="512.1,321.3 612.1,321.3 612.1,340.5 589.8,357.6 565.6,345.5 553.5,356.6 512.1,328.3"/>
<line class="ld" x1="577.7" y1="314.4" x2="577.7" y2="321.3"/>
<line class="ld" x1="444.6" y1="360.6" x2="444.6" y2="368"/>
<!-- 50712 bracket -->
<path class="p" d="M436.6,334.3 C437,332.4 437.8,330.6 438.9,329.1 C440.8,326.6 443.2,324.4 445.7,322.3 C449.6,319 453.8,316 458.3,313.1 C462,310.8 465.8,308.7 469.7,306.9 C472.3,305.8 475,305 477.7,304.6 L478.9,302.9 L482.3,301.7 L489.1,302.9 L493.7,304.6 L507.4,303.1 C508,303.2 508.1,303.4 508,303.6 L507.4,306.3 L500.6,313.1 C496,317 491,320.4 485.7,323.4 C481,326 476.2,328.4 471.4,330.3 C468,331.8 464.4,333.2 460.6,334.3 L437.1,335.4 Z"/>
<path class="pn" d="M438.4,333.4 C438.9,331.6 439.8,330 441,328.6 C443,326.2 445.4,324 448,322 C451.8,319 455.8,316.2 460,313.6 C463.4,311.6 467,309.8 470.6,308.4 C473,307.4 475.4,306.7 477.9,306.4 L482.3,307"/>
<path d="M478.9,302.9 L482.3,301.7 L489.1,302.9 L485.7,304.6 Z" fill="#eee" stroke="#3a3a3a" stroke-width=".55" stroke-linejoin="round"/>
<path class="pn" d="M478.9,302.9 L479,305 L482.3,307 L485.7,306.6 L485.7,304.6 M482.3,307 L482.3,312 L496,310.3 L505.1,307.4 M485.7,306.6 L493.6,306.6 L507,305"/>
<circle cx="449.1" cy="326.3" r="2.2" fill="#c4c4c4" stroke="#3a3a3a" stroke-width=".55"/>
<circle cx="449.3" cy="326.5" r="1" fill="#f0f0f0" stroke="#3a3a3a" stroke-width=".4"/>
<circle cx="472" cy="314.3" r="2.3" fill="#c4c4c4" stroke="#3a3a3a" stroke-width=".55"/>
<circle cx="472.2" cy="314.5" r="1" fill="#f0f0f0" stroke="#3a3a3a" stroke-width=".4"/>
<line class="ld" x1="470.4" y1="331.6" x2="470.4" y2="336.6"/>
<!-- 50715 pin -->
<path class="p" d="M522,304.4 L522,314 Q523.4,315.8 524.8,314 L524.8,304.4 Z"/>
<rect class="p" x="521" y="301.6" width="4.8" height="3" rx="1.2"/>
<line class="ld" x1="525.8" y1="308.6" x2="529.6" y2="308.6"/>
<!-- step bar (right) -->
<path class="p" d="M515.4,329.9 C516,328 517.4,326.8 519.1,326.2 C520.8,325.6 522.6,325.4 524.3,325.7 L557,338.8 C558.8,339.8 559.8,341 560,342.5 L559.6,348.4 C558.8,350.2 557.2,351.2 555.5,351.5 L551.3,351.6 L516.7,336.4 C515.4,335.6 515,334.2 515.1,332.1 Z"/>
<path class="pn" d="M516.2,331.4 L551.1,345.5 C554,346.4 557.6,345 559.6,342.6"/>
<path class="pn" d="M516.2,331.4 C516.8,329.4 518.4,328 520.4,327.6"/>
<path d="M519.6,331.6 L524.6,327.2 L553.4,338.8 C555,339.6 555.2,340.8 554.4,341.8 L550.6,344.2 Z" fill="#ececec" stroke="#333" stroke-width=".5" stroke-linejoin="round"/>
<g fill="#5f5f5f" stroke="#2a2a2a" stroke-width=".4"><rect x="525.0" y="328.6" width="3.9" height="2.7" rx=".5" transform="rotate(22 526.8 329.8)"/><rect x="530.3" y="330.8" width="3.9" height="2.7" rx=".5" transform="rotate(22 532.1 332.0)"/><rect x="535.6" y="333.0" width="3.9" height="2.7" rx=".5" transform="rotate(22 537.4 334.2)"/><rect x="540.9" y="335.2" width="3.9" height="2.7" rx=".5" transform="rotate(22 542.7 336.4)"/><rect x="546.2" y="337.4" width="3.9" height="2.7" rx=".5" transform="rotate(22 548.0 338.6)"/><rect x="522.0" y="330.8" width="3.9" height="2.7" rx=".5" transform="rotate(22 523.8 332.0)"/><rect x="527.3" y="333.0" width="3.9" height="2.7" rx=".5" transform="rotate(22 529.1 334.2)"/><rect x="532.6" y="335.2" width="3.9" height="2.7" rx=".5" transform="rotate(22 534.4 336.4)"/><rect x="537.9" y="337.4" width="3.9" height="2.7" rx=".5" transform="rotate(22 539.7 338.6)"/><rect x="543.2" y="339.6" width="3.9" height="2.7" rx=".5" transform="rotate(22 545.0 340.8)"/></g>
<ellipse class="p" cx="521.6" cy="329.2" rx="1.2" ry=".8" transform="rotate(20 521.6 329.2)" stroke-width=".6"/>
<!-- 50660 rubber (right) -->
<path class="p" d="M566,335.8 C566.6,333.6 568,332 569.7,331.4 C571.4,330.6 573.2,330.4 574.9,330.6 L601.6,344 C602.8,344.6 603.6,345.4 603.8,346.2 L595.7,352.9 C594.2,353.8 592.6,354 591.2,353.7 L567.4,342.5 C566,341.6 565.5,340.2 565.7,338.8 Z"/>
<path d="M568.4,333.8 C569.4,332.2 571.4,331.2 573.6,331.2 L600.4,344.6 L593,350.4 L570.4,340.4 C568.4,339 567.6,336 568.4,333.8 Z" fill="url(#nub)" stroke="#333" stroke-width=".5"/>
<path class="pn" d="M566.4,339.8 C567,341 568,341.8 569.6,342.4 L590.4,351.8 C592,352.2 593.4,351.8 594.4,351 L603.4,345.4"/>
<path class="p" d="M566,335.8 C566.6,333.8 567.6,332.6 568.8,332 C567.8,334.6 567.8,338.6 569.2,341 L567.4,342.5 C566,341.6 565.5,340.2 565.7,338.8 Z" stroke-width=".5"/>
<line class="ld" x1="591.9" y1="335" x2="591.9" y2="342.5"/>
<!-- 50714 plate -->
<path d="M514.2,355 C514.4,354 515,353.6 516,353.2 L521,351.4 C523.6,351.2 526.6,351.8 527.8,353 L527.6,355.2 L521.4,359.6 C519,359.8 515.8,359.2 514.6,358.2 Z" fill="#fff" stroke="#2e2e2e" stroke-width=".9" stroke-linejoin="round"/>
<path class="pn" d="M514.6,356.2 L520.8,357.6 L527.4,353.6" stroke-width=".5"/>
<path d="M517.2,354.8 l1.2,.8 m0,-.8 l-1.2,.8 M522.6,353.6 l1.2,.8 m0,-.8 l-1.2,.8" stroke="#333" stroke-width=".5" fill="none"/>
<line class="ld" x1="508.6" y1="356.1" x2="513.9" y2="356.1"/>
<!-- washer -->
<line class="ld" x1="512.2" y1="366.2" x2="516" y2="366.2"/>
<ellipse cx="518.9" cy="366.2" rx="2.5" ry="1.8" fill="#bdbdbd" stroke="#666" stroke-width=".5"/>
<ellipse cx="518.9" cy="366.2" rx="1" ry=".7" fill="#fff" stroke="#666" stroke-width=".4"/>
<!-- cotter -->
<line class="ld" x1="502.8" y1="377.9" x2="507.8" y2="377.9"/>
<line x1="508.2" y1="378" x2="515.5" y2="371.8" stroke="#333" stroke-width="1" stroke-linecap="round"/>
<!-- spring + ring -->
<rect x="534.9" y="359.8" width="3.9" height="9" rx="1.2" fill="#8a8a8a" stroke="#333" stroke-width=".6"/>
<path d="M535,361.4 l3.7,-1 M535,363 l3.7,-1 M535,364.6 l3.7,-1 M535,366.2 l3.7,-1 M535,367.8 l3.7,-1" stroke="#222" stroke-width=".6" fill="none"/>
<circle cx="536.3" cy="372.8" r="2.2" fill="#fff" stroke="#333" stroke-width=".9"/>
<line class="ld" x1="539.7" y1="364.7" x2="543.6" y2="364.7"/>
<!-- 93891 screw -->
<line x1="590.8" y1="361.8" x2="590.8" y2="366.6" stroke="#2a2a2a" stroke-width="1.6"/>
<circle cx="590.8" cy="368.6" r="1.8" fill="#555" stroke="#222" stroke-width=".6"/>
<line class="ld" x1="593.6" y1="368.1" x2="597.4" y2="368.1"/>
<!-- 90105 bolts -->
<line class="ld" x1="570.6" y1="393.6" x2="577" y2="389.2"/>
<g id="bR">
<path class="p" d="M576.6,381.8 l-3.8,-1.6 a1.2,1.7 0 0,0 -1,3 l3.6,1.6z"/>
<ellipse class="p" cx="579.4" cy="384.6" rx="3.4" ry="4.5" transform="rotate(-22 579.4 384.6)"/>
<ellipse class="g1" cx="580.2" cy="385" rx="2.3" ry="3.2" transform="rotate(-22 580.2 385)" stroke-width=".5"/>
<ellipse class="p" cx="580.6" cy="385.2" rx=".9" ry="1.3" transform="rotate(-22 580.6 385.2)" stroke-width=".4"/>
</g>
<use href="#bR" transform="translate(-12.2,11.8)"/>
<line class="ld" x1="566.5" y1="401.8" x2="566.5" y2="406.6"/>
</g>

<!--PARTS-->

<!-- ===== WATERMARK ===== -->
<g id="wm" style="mix-blend-mode:multiply">
<ellipse cx="330.5" cy="245" rx="77.6" ry="42.3" fill="#d8d8d8"/>
<ellipse cx="331.4" cy="244.75" rx="71.1" ry="35.55" fill="#fff"/>
<rect x="292" y="206" width="13" height="78" fill="#d8d8d8"/>
<path d="M388,227 C386,225.2 383.8,223.7 381.4,222.4 C377.4,220.2 373,218.4 368.6,217.3 C362.6,215.9 356.2,215.2 350,215.3 C346,215.3 342,215.5 338,216 C335.2,216.4 332.6,217 330,218 C326.2,219.4 322.8,221.2 320,223.5 C317,226 313.4,228.8 311.4,232 C309.4,234.8 307.9,237.8 307,241 C306.3,243.6 306,246.4 306,249 C306,252 306.5,255.2 307.5,258 C308.5,261 309.7,263.6 311.4,266 C313.5,268.8 317.2,271.4 320,273.5 C323.4,276 327.2,277.8 331.4,278.8 C335.8,279.9 340.4,280.6 345,281 C349.4,281.3 353.6,281.6 358,281.5 C362,281.2 366,280.4 370,279 C373.6,277.9 377,276.6 380,275 C384.4,272.6 388.4,269.6 392,266 L388,250 Z" fill="#d8d8d8"/>
<ellipse cx="365" cy="246.5" rx="37" ry="24.5" fill="#fff"/>
<path d="M252.9,245 a77.6,42.3 0 1,0 155.2,0 a77.6,42.3 0 1,0 -155.2,0 Z M260.3,244.75 a71.1,35.55 0 1,0 142.2,0 a71.1,35.55 0 1,0 -142.2,0 Z" fill="#d8d8d8" fill-rule="evenodd"/>
<g font-size="31.5" font-weight="bold" fill="#d1d1d1"><text transform="translate(256.0,326.8) scale(1.25,1)">K</text><text transform="translate(283.46,326.8) scale(1.358,1)">Y</text><text transform="translate(310.26,326.8) scale(1.273,1)">M</text><text transform="translate(340.84,326.8) scale(1.31,1)">C</text><text transform="translate(371.03,326.8) scale(1.392,1)">O</text></g>
</g>

<!-- ===== LABELS ===== -->
<g id="labels" class="lb" transform="translate(0,0.4)">
<text x="161.6" y="83">50650</text>
<text x="195.6" y="81.7">5063B</text>
<text x="112.1" y="108.4">93891</text>
<text x="229" y="110.8">50715</text>
<text x="127.9" y="136.6">90105</text>
<text x="178.1" y="143.9">50713</text>
<text x="229" y="138">50714</text>
<text x="181" y="160.2">94101</text>
<text x="172.4" y="172.4">94201</text>
<text x="119.7" y="176.3">5071A</text>
<text x="245.9" y="174.6">50711</text>
<text x="293.3" y="172.5">52110</text>
<text x="118.2" y="205.4">90306</text>
<text x="186.7" y="214">52144</text>
<text x="156" y="231.2">52142</text>
<text x="173.8" y="253.1">52108-KEE5</text>
<text x="143.6" y="261.5">52171</text>
<text x="249" y="295.8">52108-KEE5</text>
<text x="298.1" y="273.9">52144</text>
<text x="312.8" y="313.2">52142</text>
<text x="86" y="316.6" textLength="47" lengthAdjust="spacingAndGlyphs">52108-KFW6</text>
<text x="139.5" y="334">93901</text>
<text x="174.3" y="333.3">95014</text>
<text x="235.7" y="321.5">90107</text>
<text x="249" y="364.4">50530</text>
<text x="347.4" y="335.4">90121</text>
<text x="377.6" y="82.5">93903</text>
<text x="399" y="107.4">4054A</text>
<text x="393" y="122.5">40546</text>
<text x="368.1" y="139.3">40543</text>
<text x="458" y="135">4054A</text>
<text x="450" y="178.3">40546</text>
<text x="421" y="196.7">40543</text>
<text x="498" y="186.3">93903</text>
<text x="397.3" y="235.5">40510</text>
<text x="493" y="259.6">40530</text>
<text x="495.7" y="279.3">95701</text>
<text x="406.4" y="325.3">95701</text>
<text x="530.9" y="310.4">50715</text>
<text x="567" y="312">5064B</text>
<text x="585.8" y="333.4">50660</text>
<text x="459.3" y="344.5">50712</text>
<text x="485.6" y="359.1">50714</text>
<text x="489.2" y="368.4">94101</text>
<text x="544.4" y="367.7">50713</text>
<text x="480" y="380.3">94201</text>
<text x="427.4" y="375.9">5071B</text>
<text x="598.6" y="370.8">93891</text>
<text x="555.6" y="413.2">90105</text>
</g>
</svg>
</body>
</html>
